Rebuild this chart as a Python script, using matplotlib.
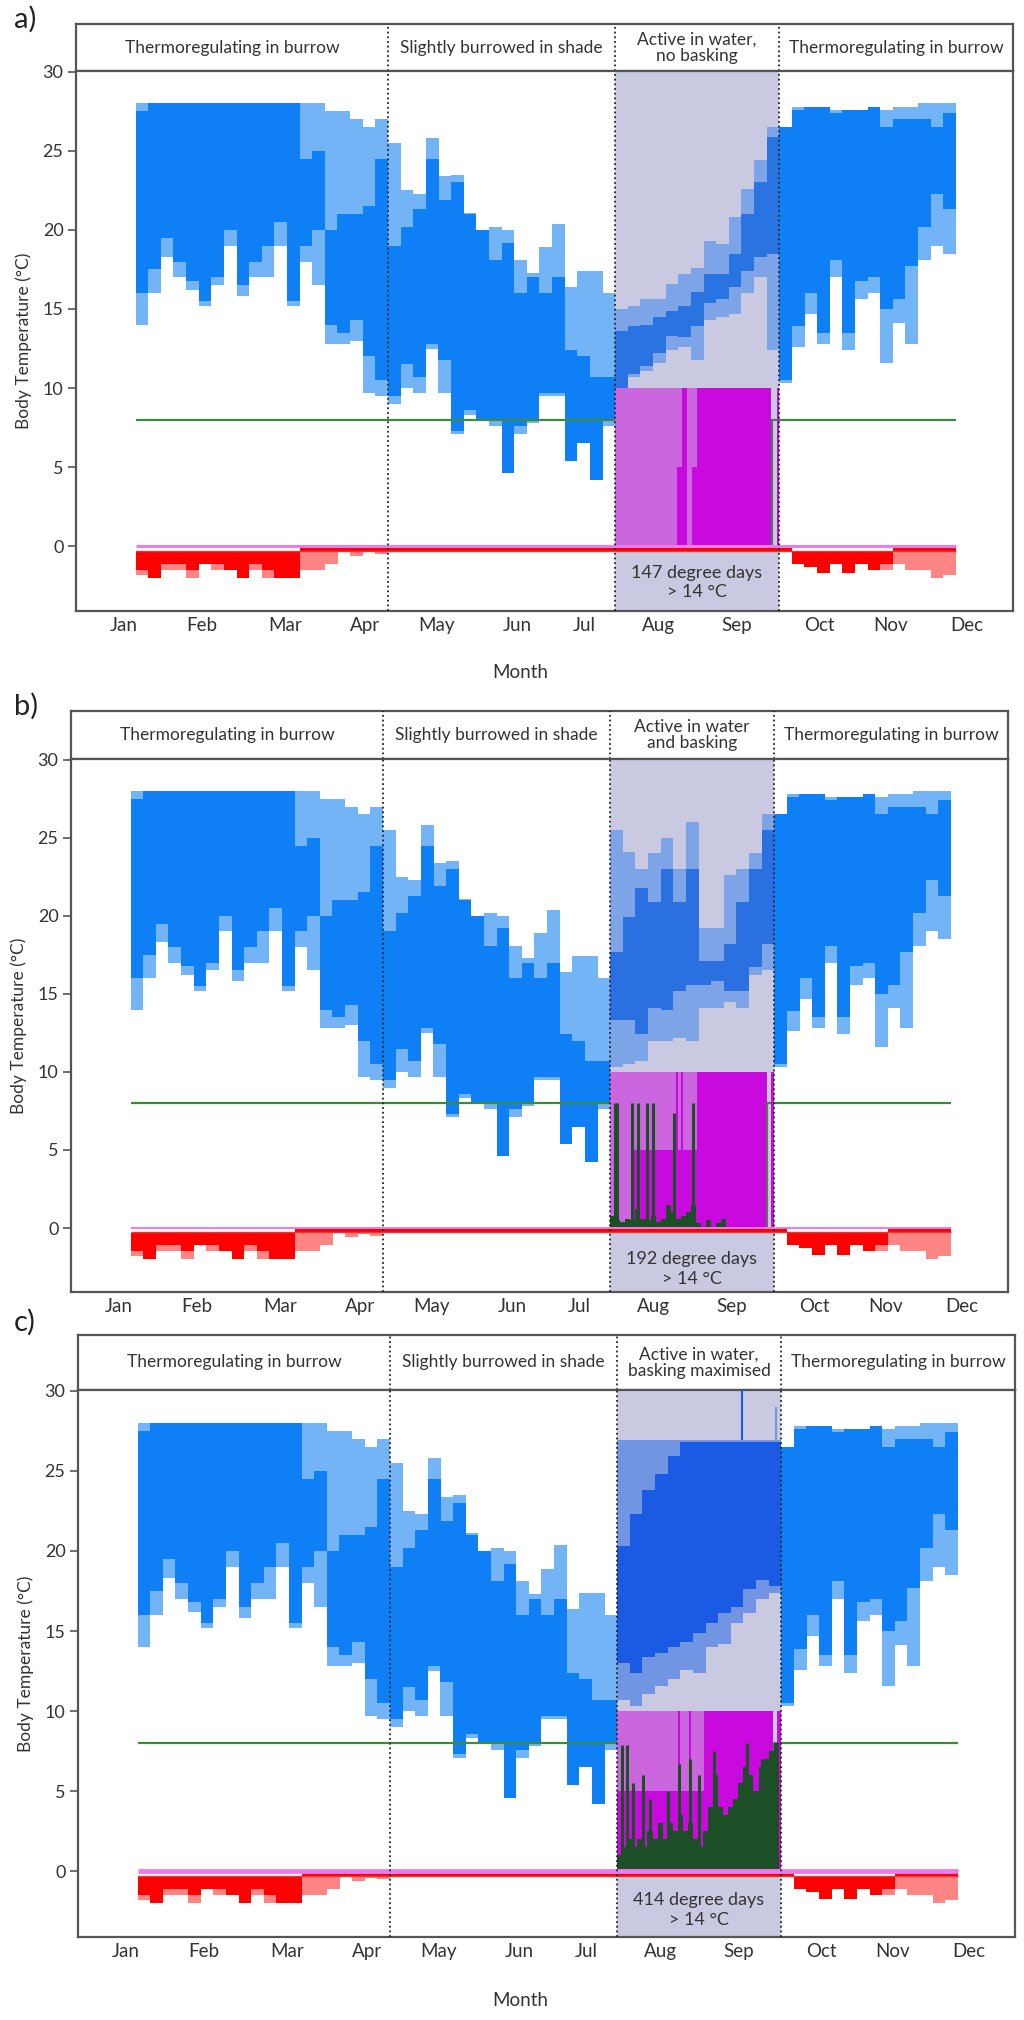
import numpy as np
import matplotlib
matplotlib.use("Agg")
import matplotlib.pyplot as plt

# ---------------- data ----------------
# 5-day bins starting at day 4.6 (day 0 = 1 Jan); 38 bins before the active period
pre_light_hi = [28, 28, 28, 28, 28, 28, 28, 28, 28, 28, 28, 28, 28, 28, 28, 27.5, 27.5, 27, 26.5, 27,
                25.5, 22.5, 22.3, 25.8, 23.4, 23.5, 21.1, 20, 20.2, 20, 18.1, 17.3, 18.9, 20.4, 16.4, 17.4, 17.4, 16]
pre_light_lo = [14, 16, 18.3, 17, 16.2, 15.2, 16.5, 19, 15.8, 17, 17, 19, 15.2, 18, 16.5, 12.8, 12.8, 13, 9.7, 9.5,
                9, 10, 9.7, 12.5, 9.7, 7.1, 8.3, 8, 7.6, 4.6, 7.1, 7.8, 9.5, 9.5, 5.4, 6.5, 4.2, 7.6]
pre_dark_hi = [27.5, 28, 28, 28, 28, 28, 28, 28, 28, 28, 28, 28, 28, 24.5, 25, 20, 21, 21, 21.5, 24.5,
               19, 20.2, 21.3, 24.5, 21.9, 23, 21, 20, 18.1, 19.2, 16, 17, 16, 17, 12.4, 12, 10.7, 10.7]
pre_dark_lo = [16, 17.5, 19.5, 18, 16.8, 15.5, 17, 20, 16.5, 18, 19, 20.5, 15.5, 19, 20, 14, 13.5, 14.3, 12, 10.5,
               9.5, 11.5, 10.7, 12.8, 11.8, 7.3, 8.6, 8, 8, 4.6, 7.6, 8, 9.7, 9.7, 5.4, 6.5, 4.2, 8]

# 14 bins after the active period
post_light_hi = [26.5, 27.8, 27.8, 27.8, 27.6, 27.6, 27.6, 27.8, 27.6, 27.8, 27.8, 28, 28, 28]
post_light_lo = [10.3, 12.6, 14.7, 12.8, 17.0, 12.4, 15.6, 16.0, 11.6, 14.1, 12.8, 18.1, 19.0, 18.5]
post_dark_hi = [26.5, 27.6, 27.8, 27.8, 27.4, 27.6, 27.6, 27.8, 26.5, 27.0, 27.0, 27.0, 26.5, 27.4]
post_dark_lo = [10.5, 13.9, 16.0, 13.5, 18.1, 13.5, 16.8, 17.0, 15.0, 15.6, 17.7, 20.2, 22.3, 21.3]

# 13 bins of the active period, per scenario
act_a_light_hi = [15.0, 15.2, 15.6, 15.6, 16.6, 17.2, 17.6, 19.3, 19.1, 20.8, 22.6, 24.4, 26.5]
act_a_light_lo = [10.3, 10.7, 11.1, 11.6, 12.4, 12.6, 11.8, 14.3, 14.5, 14.7, 16.0, 17.0, 12.4]
act_a_dark_hi = [13.6, 13.9, 14.0, 14.5, 14.9, 15.2, 16.1, 17.2, 17.2, 18.5, 21.0, 23.0, 25.9]
act_a_dark_lo = [9.9, 10.9, 11.4, 12.2, 13.3, 13.2, 13.9, 15.4, 15.6, 16.4, 17.4, 18.3, 18.5]

act_b_light_hi = [25.5, 24.1, 23.0, 24.0, 25.0, 23.0, 26.0, 19.2, 19.2, 22.6, 23.0, 24.0, 26.5]
act_b_light_lo = [10.3, 10.5, 10.7, 12.0, 12.0, 12.2, 12.0, 14.1, 14.1, 14.5, 14.1, 16.2, 16.5]
act_b_dark_hi = [17.7, 19.9, 21.8, 20.9, 23.0, 20.9, 23.0, 17.1, 17.1, 18.2, 20.9, 23.0, 25.5]
act_b_dark_lo = [13.3, 13.3, 12.4, 14.1, 14.0, 15.2, 15.6, 15.6, 15.8, 15.2, 15.2, 16.7, 18.2]

act_c_light_hi = [26.9, 26.9, 26.9, 26.9, 26.9, 26.9, 26.9, 26.9, 26.9, 26.9, 26.9, 26.9, 26.9]
act_c_light_lo = [10.7, 10.3, 11.1, 11.6, 12.0, 12.6, 12.4, 14.0, 14.2, 15.5, 16.1, 17.0, 17.4]
act_c_dark_hi = [20.3, 22.3, 23.8, 24.8, 25.9, 26.8, 26.8, 26.8, 26.8, 26.8, 26.8, 26.8, 26.8]
act_c_dark_lo = [13.0, 12.4, 13.4, 13.6, 14.0, 14.3, 14.9, 15.5, 16.1, 16.5, 17.6, 18.2, 17.8]
spike_c_days = [244.0, 257.5]
spike_c_tops = [30.2, 29.0]

# red bars below zero (depth, degC) for 65 bins
red_dark = ([-1.5, -2.0, -1.1, -1.1, -1.5, -1.1, -1.1, -1.5, -2.0, -1.1, -1.5, -2.0, -2.0]
            + [0] * 25 + [0] * 13
            + [0, -1.1, -1.3, -1.7, -1.1, -1.7, -1.1, -1.5, -1.1, 0, 0, 0, 0, 0])
red_light = ([-1.8, -2.0, -1.5, -1.5, -2.0, -1.1, -1.5, -1.5, -2.0, -1.5, -2.0, -2.0, -2.0, -1.5, -1.5, -1.1,
              0, -0.6, -0.4, -0.5] + [0] * 18 + [0] * 13
             + [0, -1.1, -1.3, -1.7, -1.1, -1.7, -1.1, -1.5, -1.5, -1.1, -1.5, -1.5, -2.0, -1.8])

# magenta bars (0-10) in the active period: (start day, end day, kind)
mag_a = [(194.6, 219, "orchid"), (219, 221, "split"), (221, 223, "bright"), (223, 225, "orchid"),
         (225, 227, "split"), (227, 256.3, "bright"), (258.6, 259.4, "bright")]
mag_b = [(194.6, 203, "orchid"), (203, 220.5, "split"), (220.5, 221.5, "bright"), (221.5, 222.5, "split"),
         (222.5, 223.5, "bright"), (223.5, 228.9, "split"), (228.9, 256.9, "bright"), (258.4, 259.4, "bright")]
mag_c = [(194.6, 218.5, "split"), (218.5, 219.3, "bright"), (219.3, 223.2, "split"), (223.2, 224, "bright"),
         (224, 228.8, "split"), (228.8, 256.3, "bright"), (257.8, 259.4, "bright")]

# dark green bars (2-day bins from day 194.6) and spikes
green_b = [0.8, 0.5, 0.4, 0.6, 0.5, 1.2, 0.6, 0.5, 0.8, 0.4, 0.6, 1.5, 1.0, 0.6, 0.8, 1.0,
           1.5, 0.3, 0.0, 0.5, 0.0, 0.3, 0.6, 0, 0, 0, 0, 0, 0, 0, 0, 0]
green_b_spike_days = [196.6, 197.3, 203.2, 205.7, 209.1, 211.6, 219.7, 227.6]
green_b_spike_tops = [8.0, 8.0, 8.0, 8.0, 8.0, 8.0, 7.4, 8.0]
green_c = [1.0, 1.5, 2.0, 1.5, 2.0, 1.5, 2.5, 2.0, 3.0, 2.0, 3.0, 2.5, 3.5, 2.5, 3.0, 2.0,
           1.5, 2.5, 4.0, 6.0, 4.0, 3.5, 4.0, 4.5, 5.5, 6.5, 6.0, 5.0, 6.5, 7.0, 7.5, 8.0]
green_c_spike_days = [196.4, 198.4, 201.0, 205.0, 207.7, 214.9, 218.9, 223.5, 227.0, 232.8, 246.0, 251.9]
green_c_spike_tops = [7.9, 7.9, 5.5, 6.0, 4.5, 5.0, 6.7, 7.0, 6.0, 7.5, 8.0, 7.0]

month_labels = ["Jan", "Feb", "Mar", "Apr", "May", "Jun", "Jul", "Aug", "Sep", "Oct", "Nov", "Dec"]
month_pos = [0, 30.9, 63.8, 95.5, 124, 155.7, 182.3, 211.6, 242.9, 275.4, 303.5, 334]
phase_bounds = [104.6, 194.6, 259.4]
degree_days = [147, 192, 414]

# ---------------- style ----------------
W, H = 1024, 2020
DARK = "#0f7ff5"
LIGHT = "#72b4f6"
ACT_DARK = {"a": "#2a74e2", "b": "#2a70e0", "c": "#1b5be3"}
ACT_LIGHT = {"a": "#7ea4e8", "b": "#7ea4e8", "c": "#7195e2"}
LAV = "#c9c9e2"
ORCHID = "#cc66de"
BRIGHT = "#c90ade"
DGREEN = "#1d4f26"
FRAME = "#555555"
FONT = ["Lato", "DejaVu Sans"]

XL = (-19.0, 352.2)
YL = (-4.1, 30.05)

fig = plt.figure(figsize=(W / 100, H / 100), dpi=100)
fig.patch.set_facecolor("white")


def rect(l, t, r, b):
    return [l / W, 1 - b / H, (r - l) / W, (b - t) / H]


def style_frame(ax):
    for s in ax.spines.values():
        s.set_color(FRAME)
        s.set_linewidth(1.6)


def draw_panel(key, hdr_box, ax_box, act, mag, green, gspk, headers, dd_y, letter, letter_xy,
               show_month, month_y, pink_lw):
    hax = fig.add_axes(rect(*hdr_box))
    ax = fig.add_axes(rect(*ax_box))
    for a in (hax, ax):
        a.set_xlim(*XL)
        style_frame(a)
    hax.set_ylim(0, 1)
    hax.set_xticks([])
    hax.set_yticks([])
    ax.set_ylim(*YL)

    # active period background
    ax.axvspan(phase_bounds[1], phase_bounds[2], color=LAV, zorder=0, lw=0)

    n = 65
    centers = 4.6 + 2.5 + 5 * np.arange(n)
    lhi = np.array(pre_light_hi + act[0] + post_light_hi)
    llo = np.array(pre_light_lo + act[1] + post_light_lo)
    dhi = np.array(pre_dark_hi + act[2] + post_dark_hi)
    dlo = np.array(pre_dark_lo + act[3] + post_dark_lo)
    in_act = (np.arange(n) >= 38) & (np.arange(n) < 51)
    lcol = [ACT_LIGHT[key] if f else LIGHT for f in in_act]
    dcol = [ACT_DARK[key] if f else DARK for f in in_act]
    ax.bar(centers, lhi - llo, bottom=llo, width=5.02, color=lcol, lw=0, zorder=2)
    ax.bar(centers, dhi - dlo, bottom=dlo, width=5.02, color=dcol, lw=0, zorder=3)
    if key == "c":
        ax.vlines(spike_c_days[:1], 26.9, spike_c_tops[:1], color=ACT_DARK["c"], lw=1.5, zorder=3)
        ax.vlines(spike_c_days[1:], 26.9, spike_c_tops[1:], color=ACT_LIGHT["c"], lw=1.5, zorder=3)

    # threshold line
    ax.hlines(8, 4.6, 329.6, color="#3d8a3d", lw=1.6, zorder=4)

    # magenta blocks
    for s, e, kind in mag:
        if kind == "orchid":
            ax.bar((s + e) / 2, 10, width=e - s, color=ORCHID, lw=0, zorder=5)
        elif kind == "bright":
            ax.bar((s + e) / 2, 10, width=e - s, color=BRIGHT, lw=0, zorder=5)
        else:
            ax.bar((s + e) / 2, 5, bottom=5, width=e - s, color=ORCHID, lw=0, zorder=5)
            ax.bar((s + e) / 2, 5, width=e - s, color=BRIGHT, lw=0, zorder=5)
    ax.vlines(256.8, 0, 8, color="#557755", lw=1.5, zorder=5)

    # green bars
    if green is not None:
        gc = 194.6 + 1 + 2 * np.arange(len(green))
        ax.bar(gc, green, width=2, color=DGREEN, lw=0, zorder=6)
        ax.vlines(gspk[0], 0, gspk[1], color=DGREEN, lw=2.2, zorder=6)

    # red bars
    ax.bar(centers, np.array(red_light) + 0.3, bottom=-0.3, width=5.02, color="#ff8484", lw=0, zorder=4)
    ax.bar(centers, np.array(red_dark) + 0.3, bottom=-0.3, width=5.02, color="#ff0000", lw=0, zorder=4)
    ax.hlines(-0.28, 4.6, 329.6, color="#e23a3a", lw=1.0, zorder=7)
    ax.hlines(0, 4.6, 329.6, color="#ec7cec", lw=pink_lw, zorder=7)

    # phase boundaries
    for xb in phase_bounds:
        for a in (ax, hax):
            a.axvline(xb, color="#222222", lw=1.3, ls=(0, (1, 1.6)), zorder=8)

    # header labels
    edges = [XL[0]] + phase_bounds + [XL[1]]
    for i, txt in enumerate(headers):
        hax.text((edges[i] + edges[i + 1]) / 2, 0.5, txt, ha="center", va="center",
                 fontsize=12.5, family=FONT, color="#333333", linespacing=1.05)

    ax.text((phase_bounds[1] + phase_bounds[2]) / 2, dd_y,
            f"{degree_days['abc'.index(key)]} degree days\n> 14 \u00b0C",
            ha="center", va="center", fontsize=13, family=FONT, color="#333333", linespacing=1.3)

    # axes ticks
    ax.set_yticks([0, 5, 10, 15, 20, 25, 30])
    ax.tick_params(axis="y", length=6, width=1.2, color=FRAME, labelsize=13, pad=3)
    for t in ax.get_yticklabels():
        t.set_family(FONT)
        t.set_color("#333333")
    ax.set_xticks(month_pos)
    ax.set_xticklabels(month_labels, family=FONT, fontsize=13.5, color="#333333")
    ax.tick_params(axis="x", length=0, pad=4)
    ax.set_ylabel("Body Temperature (\u00b0C)", family=FONT, fontsize=12.5, color="#333333", labelpad=8)

    fig.text(letter_xy[0] / W, 1 - letter_xy[1] / H, letter, fontsize=21, family=FONT,
             ha="left", va="center", color="#222222")
    if show_month:
        fig.text(520 / W, 1 - month_y / H, "Month", fontsize=13.5, family=FONT,
                 ha="center", va="center", color="#333333")


draw_panel("a", (76, 24, 1013, 71), (76, 71, 1013, 611),
           (act_a_light_hi, act_a_light_lo, act_a_dark_hi, act_a_dark_lo),
           mag_a, None, None,
           ["Thermoregulating in burrow", "Slightly burrowed in shade",
            "Active in water,\nno basking", "Thermoregulating in burrow"],
           -2.3, "a)", (14, 19), True, 672, 2.2)

draw_panel("b", (71, 711, 1008, 759), (71, 759, 1008, 1292),
           (act_b_light_hi, act_b_light_lo, act_b_dark_hi, act_b_dark_lo),
           mag_b, green_b, (green_b_spike_days, green_b_spike_tops),
           ["Thermoregulating in burrow", "Slightly burrowed in shade",
            "Active in water\nand basking", "Thermoregulating in burrow"],
           -2.65, "b)", (14, 706), False, 0, 1.4)

draw_panel("c", (78, 1335, 1015, 1390), (78, 1390, 1015, 1937),
           (act_c_light_hi, act_c_light_lo, act_c_dark_hi, act_c_dark_lo),
           mag_c, green_c, (green_c_spike_days, green_c_spike_tops),
           ["Thermoregulating in burrow", "Slightly burrowed in shade",
            "Active in water,\nbasking maximised", "Thermoregulating in burrow"],
           -2.4, "c)", (14, 1322), True, 2000, 3.5)

fig.savefig("out.png", dpi=100, facecolor="white")
